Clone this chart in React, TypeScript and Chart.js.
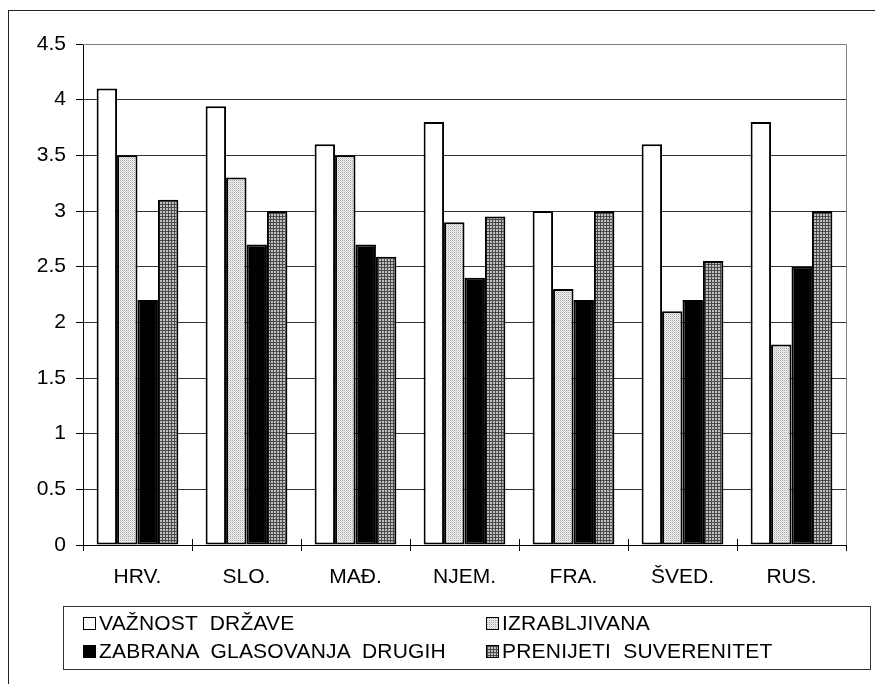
import React, { useEffect, useRef } from "react";
import { Chart, registerables } from "chart.js";
Chart.register(...registerables);

const categories = ["HRV.", "SLO.", "MAĐ.", "NJEM.", "FRA.", "ŠVED.", "RUS."];
const seriesNames = ["VAŽNOST  DRŽAVE", "IZRABLJIVANA", "ZABRANA  GLASOVANJA  DRUGIH", "PRENIJETI  SUVERENITET"];
const vaznostDrzave = [4.1, 3.94, 3.6, 3.8, 3.0, 3.6, 3.8];
const izrabljivana = [3.5, 3.3, 3.5, 2.9, 2.3, 2.1, 1.8];
const zabranaGlasovanja = [2.2, 2.7, 2.7, 2.4, 2.2, 2.2, 2.5];
const prenijetiSuverenitet = [3.1, 3.0, 2.59, 2.95, 3.0, 2.55, 3.0];
const yTickLabels = ["0", "0.5", "1", "1.5", "2", "2.5", "3", "3.5", "4", "4.5"];
const Y_MIN = 0;
const Y_MAX = 4.5;
const Y_STEP = 0.5;

const FONT = "'Liberation Sans', Arial, sans-serif";

function makePatternCanvas(size: number, draw: (c: CanvasRenderingContext2D) => void) {
  const c = document.createElement("canvas");
  c.width = size;
  c.height = size;
  const ctx = c.getContext("2d")!;
  draw(ctx);
  return c;
}

const lightCanvas = makePatternCanvas(2, (c) => {
  c.fillStyle = "#f2f2f2";
  c.fillRect(0, 0, 2, 2);
  c.fillStyle = "#a8a8a8";
  c.fillRect(0, 0, 1, 1);
  c.fillStyle = "#d4d4d4";
  c.fillRect(1, 1, 1, 1);
});

const darkCanvas = makePatternCanvas(3, (c) => {
  c.fillStyle = "#c0c0c0";
  c.fillRect(0, 0, 3, 3);
  c.fillStyle = "#4a4a4a";
  c.fillRect(0, 0, 3, 1);
  c.fillRect(0, 0, 1, 3);
});

const framePlugin = {
  id: "frame",
  afterDraw(chart: any) {
    const { ctx, chartArea, scales } = chart;
    const xs = scales.x;
    ctx.save();
    ctx.lineWidth = 1;
    ctx.strokeStyle = "#000";
    for (let i = 0; i <= categories.length; i++) {
      const px = Math.round(xs.getPixelForValue(i - 0.5)) + 0.5;
      ctx.beginPath();
      ctx.moveTo(px, chartArea.bottom - 6);
      ctx.lineTo(px, chartArea.bottom);
      ctx.stroke();
    }
    ctx.strokeStyle = "#808080";
    ctx.beginPath();
    ctx.moveTo(chartArea.left, Math.round(chartArea.top) + 0.5);
    ctx.lineTo(Math.round(chartArea.right) + 0.5, Math.round(chartArea.top) + 0.5);
    ctx.lineTo(Math.round(chartArea.right) + 0.5, chartArea.bottom);
    ctx.stroke();
    ctx.restore();
  },
};

export default function App() {
  const canvasRef = useRef<HTMLCanvasElement | null>(null);

  useEffect(() => {
    const canvas = canvasRef.current!;
    const ctx = canvas.getContext("2d")!;
    const lightPattern = ctx.createPattern(lightCanvas, "repeat")!;
    const darkPattern = ctx.createPattern(darkCanvas, "repeat")!;

    const chart = new Chart(canvas, {
      type: "bar",
      data: {
        labels: categories,
        datasets: [
          { label: seriesNames[0], data: vaznostDrzave, backgroundColor: "#ffffff" },
          { label: seriesNames[1], data: izrabljivana, backgroundColor: lightPattern as any },
          { label: seriesNames[2], data: zabranaGlasovanja, backgroundColor: "#000000" },
          { label: seriesNames[3], data: prenijetiSuverenitet, backgroundColor: darkPattern as any },
        ].map((d) => ({
          ...d,
          borderColor: "#000",
          borderWidth: 2,
          borderSkipped: false,
          categoryPercentage: 0.75,
          barPercentage: 1,
        })),
      },
      options: {
        responsive: false,
        animation: false,
        devicePixelRatio: 1,
        layout: { padding: { left: 0, top: 44, right: 29, bottom: 89 } },
        plugins: {
          legend: { display: false },
          tooltip: { enabled: false },
        },
        scales: {
          x: {
            offset: true,
            grid: {
              offset: true,
              drawOnChartArea: false,
              tickLength: 6,
              color: "#000",
            },
            border: { display: true, color: "#000", width: 1 },
            ticks: {
              color: "#000",
              font: { family: FONT, size: 21 },
              padding: 14,
              maxRotation: 0,
            },
            afterFit: (s: any) => {
              s.height = 50;
            },
          },
          y: {
            min: Y_MIN,
            max: Y_MAX,
            grid: {
              color: (c: any) => (c.tick && c.tick.value === Y_MAX ? "#808080" : "#333333"),
              tickColor: "#000",
              tickLength: 7,
            },
            border: { display: true, color: "#000", width: 1 },
            ticks: {
              stepSize: Y_STEP,
              color: "#000",
              font: { family: FONT, size: 21 },
              padding: 10,
              callback: (_v: any, i: number) => yTickLabels[i],
            },
            afterFit: (s: any) => {
              s.width = 83;
            },
          },
        },
      },
      plugins: [framePlugin],
    });
    return () => chart.destroy();
  }, []);

  const lightUrl = lightCanvas.toDataURL();
  const darkUrl = darkCanvas.toDataURL();

  const marker = (bg: string, img?: string): React.CSSProperties => ({
    width: 13,
    height: 13,
    boxSizing: "border-box",
    border: "1px solid #000",
    background: img ? `url(${img}) repeat` : bg,
    marginRight: 3,
    flex: "0 0 auto",
  });

  const items = [
    { name: seriesNames[0], style: marker("#fff"), left: 19, top: 2 },
    { name: seriesNames[1], style: marker("#ccc", lightUrl), left: 422, top: 2 },
    { name: seriesNames[2], style: marker("#000"), left: 19, top: 30 },
    { name: seriesNames[3], style: marker("#888", darkUrl), left: 422, top: 30 },
  ];

  return (
    <div
      style={{
        position: "absolute",
        left: 0,
        top: 0,
        width: 875,
        height: 684,
        overflow: "hidden",
        background: "#fff",
      }}
    >
      <div
        style={{
          position: "absolute",
          left: 8,
          top: 10,
          width: 900,
          height: 700,
          border: "1px solid #222",
        }}
      />
      <canvas
        ref={canvasRef}
        width={875}
        height={684}
        style={{ position: "absolute", left: 0, top: 0, width: 875, height: 684 }}
      />
      <div
        style={{
          position: "absolute",
          left: 63,
          top: 606,
          width: 808,
          height: 64,
          boxSizing: "border-box",
          border: "1px solid #333",
          fontFamily: FONT,
          fontSize: 21,
          color: "#000",
          letterSpacing: "0.2px",
        }}
      >
        {items.map((it) => (
          <div
            key={it.name}
            style={{
              position: "absolute",
              left: it.left,
              top: it.top,
              height: 28,
              display: "flex",
              alignItems: "center",
              whiteSpace: "pre",
              lineHeight: "28px",
            }}
          >
            <span style={it.style} />
            <span>{it.name}</span>
          </div>
        ))}
      </div>
    </div>
  );
}
